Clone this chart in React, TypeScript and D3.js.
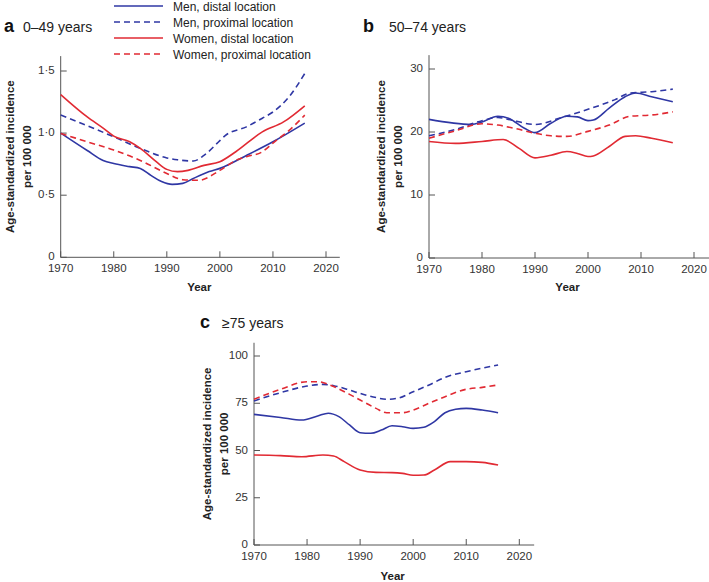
import React from "react";
import * as d3 from "d3";

// ---------- DATA ----------
const seriesNames = [
  "Men, distal location",
  "Men, proximal location",
  "Women, distal location",
  "Women, proximal location",
];

// Panel a: 0–49 years
const aYears = [1970, 1975, 1978, 1980, 1983, 1985, 1987, 1989, 1991, 1993, 1995, 1998, 2000, 2005, 2010, 2016];
const aMenDistal = [1.0, 0.86, 0.78, 0.755, 0.73, 0.715, 0.66, 0.61, 0.587, 0.595, 0.635, 0.69, 0.716, 0.82, 0.93, 1.08];
const aMenProxYears = [1970, 1975, 1980, 1985, 1990, 1992, 1995, 1997, 2000, 2001, 2005, 2008, 2010, 2013, 2016];
const aMenProximal = [1.145, 1.06, 0.97, 0.877, 0.8, 0.785, 0.775, 0.82, 0.94, 0.98, 1.05, 1.12, 1.17, 1.29, 1.48];
const aWomDistYears = [1970, 1975, 1978, 1980, 1983, 1985, 1988, 1990, 1992, 1994, 1997, 2000, 2003, 2008, 2012, 2016];
const aWomenDistal = [1.31, 1.13, 1.04, 0.976, 0.93, 0.877, 0.77, 0.708, 0.69, 0.7, 0.74, 0.77, 0.85, 1.01, 1.09, 1.22];
const aWomProxYears = [1970, 1975, 1980, 1985, 1990, 1993, 1996, 2000, 2003, 2005, 2008, 2010, 2013, 2016];
const aWomenProximal = [0.997, 0.93, 0.863, 0.78, 0.675, 0.625, 0.62, 0.7, 0.78, 0.81, 0.85, 0.92, 1.02, 1.145];
const aTicks = [0, 0.5, 1.0, 1.5];
const aTickLabels = ["0", "0·5", "1·0", "1·5"];

// Panel b: 50–74 years
const bMenDistYears = [1970, 1978, 1980, 1983, 1985, 1988, 1990, 1993, 1996, 1998, 2000, 2001, 2004, 2007, 2009, 2012, 2016];
const bMenDistal = [22.0, 21.2, 21.6, 22.5, 22.2, 20.6, 19.9, 21.4, 22.5, 22.4, 21.8, 21.9, 23.8, 25.6, 26.2, 25.6, 24.8];
const bMenProxYears = [1970, 1975, 1980, 1983, 1985, 1990, 1995, 2000, 2005, 2008, 2012, 2016];
const bMenProximal = [19.4, 20.4, 21.8, 22.3, 22.0, 21.2, 22.3, 23.6, 25.1, 26.2, 26.4, 26.8];
const bWomDistYears = [1970, 1975, 1980, 1984, 1987, 1990, 1993, 1996, 1998, 2000, 2001, 2004, 2007, 2009, 2012, 2016];
const bWomenDistal = [18.5, 18.2, 18.5, 18.8, 17.4, 15.9, 16.3, 16.9, 16.6, 16.1, 16.2, 17.7, 19.3, 19.4, 19.0, 18.3];
const bWomProxYears = [1970, 1975, 1980, 1983, 1986, 1990, 1993, 1996, 2000, 2004, 2008, 2012, 2016];
const bWomenProximal = [19.0, 20.2, 21.3, 21.1, 20.6, 19.8, 19.4, 19.3, 20.1, 21.1, 22.5, 22.7, 23.2];
const bTicks = [0, 10, 20, 30];
const bTickLabels = ["0", "10", "20", "30"];

// Panel c: ≥75 years
const cMenDistYears = [1970, 1975, 1979, 1982, 1984, 1986, 1988, 1990, 1992, 1994, 1996, 1998, 2000, 2002, 2004, 2006, 2008, 2010, 2013, 2016];
const cMenDistal = [69.1, 67.5, 66.1, 68.3, 69.7, 67.9, 63.5, 59.4, 59.1, 60.8, 63.1, 62.6, 61.7, 62.3, 65.3, 70.0, 71.8, 72.3, 71.4, 70.0];
const cMenProxYears = [1970, 1975, 1980, 1983, 1985, 1988, 1990, 1993, 1995, 1997, 2000, 2003, 2006, 2010, 2016];
const cMenProximal = [76.2, 80.6, 84.1, 85.0, 84.3, 82.0, 80.2, 78.0, 77.1, 77.6, 81.1, 84.7, 88.7, 91.7, 95.2];
const cWomDistYears = [1970, 1975, 1979, 1983, 1985, 1987, 1990, 1993, 1996, 1998, 2000, 2002, 2004, 2007, 2010, 2013, 2016];
const cWomenDistal = [47.6, 47.3, 46.7, 47.6, 47.1, 44.1, 39.7, 38.4, 38.3, 37.9, 36.9, 37.0, 39.7, 44.1, 44.1, 43.7, 42.3];
const cWomProxYears = [1970, 1975, 1980, 1982, 1985, 1988, 1990, 1993, 1995, 1998, 2000, 2003, 2006, 2010, 2013, 2016];
const cWomenProximal = [77.1, 82.4, 86.4, 86.4, 83.8, 79.7, 76.7, 72.3, 70.0, 70.0, 71.4, 75.0, 78.5, 82.4, 83.4, 84.7];
const cTicks = [0, 25, 50, 75, 100];
const cTickLabels = ["0", "25", "50", "75", "100"];

const xTicks = [1970, 1980, 1990, 2000, 2010, 2020];

// ---------- STYLE ----------
const BLUE = "#2f37a4";
const RED = "#e12a33";
const AXIS = "#555";
const FONT = "'Liberation Sans', Arial, Helvetica, sans-serif";
const styles = [
  { color: BLUE, dash: null },
  { color: BLUE, dash: "6,4" },
  { color: RED, dash: null },
  { color: RED, dash: "6,4" },
];

type Series = { years: number[]; values: number[] };

function Panel(props: {
  x0: number; x1: number; y0: number; y1: number;
  yMax: number; yTop: number; xEnd: number;
  ticks: number[]; tickLabels: string[]; series: Series[];
  letter: string; title: string; letterX: number; titleX: number; titleY: number;
  labelX: number; yearY: number;
}) {
  const { x0, x1, y0, y1, yMax, yTop, xEnd, ticks, series } = props;
  const xs = d3.scaleLinear().domain([1970, 2020]).range([x0, x1]);
  const ys = d3.scaleLinear().domain([0, yMax]).range([y0, y1]);
  const yMid = (y0 + ys(yTop)) / 2;
  return (
    <g>
      <text x={props.letterX} y={props.titleY} fontSize={18} fontWeight="bold" fill="#111">{props.letter}</text>
      <text x={props.titleX} y={props.titleY} fontSize={14} fill="#222">{props.title}</text>
      {/* axes */}
      <line x1={x0} x2={x0} y1={y0} y2={ys(yTop)} stroke={AXIS} strokeWidth={1} />
      <line x1={x0} x2={xs(xEnd)} y1={y0} y2={y0} stroke={AXIS} strokeWidth={1} />
      {ticks.map((t, i) => (
        <g key={"y" + t}>
          <line x1={x0} x2={x0 + 6} y1={ys(t)} y2={ys(t)} stroke={AXIS} />
          <text x={x0 - 6} y={ys(t) + 3} fontSize={11.5} textAnchor="end" fill="#333">{props.tickLabels[i]}</text>
        </g>
      ))}
      {xTicks.map((t) => (
        <g key={"x" + t}>
          <line x1={xs(t)} x2={xs(t)} y1={y0} y2={y0 - 6} stroke={AXIS} />
          <text x={xs(t)} y={y0 + 15} fontSize={11.5} textAnchor="middle" fill="#333">{t}</text>
        </g>
      ))}
      <text x={(x0 + xs(2020)) / 2 + 6} y={props.yearY} fontSize={11.5} fontWeight="bold" textAnchor="middle" fill="#222">Year</text>
      <text transform={`translate(${props.labelX},${yMid}) rotate(-90)`} fontSize={11.5} fontWeight="bold" textAnchor="middle" fill="#222">
        <tspan x={0} dy={0}>Age-standardized incidence</tspan>
        <tspan x={0} dy={17}>per 100 000</tspan>
      </text>
      {series.map((s, i) => {
        const pts: [number, number][] = s.years.map((yr, j) => [xs(yr), ys(s.values[j])]);
        const path = d3.line().curve(d3.curveMonotoneX)(pts) || "";
        return (
          <path key={i} d={path} fill="none" stroke={styles[i].color} strokeWidth={1.6}
            strokeDasharray={styles[i].dash || undefined} />
        );
      })}
    </g>
  );
}

export default function App() {
  const legendY = [6, 22, 38, 54];
  return (
    <svg width={709} height={582} style={{ position: "absolute", left: 0, top: 0, fontFamily: FONT }}>
      <rect x={0} y={0} width={709} height={582} fill="#fff" />
      {seriesNames.map((n, i) => (
        <g key={n}>
          <line x1={114} x2={163} y1={legendY[i]} y2={legendY[i]} stroke={styles[i].color} strokeWidth={1.6}
            strokeDasharray={styles[i].dash || undefined} />
          <text x={173} y={legendY[i] + 4.5} fontSize={12} fill="#222">{n}</text>
        </g>
      ))}
      <Panel x0={60.7} x1={326} y0={257.3} y1={71} yMax={1.5} yTop={1.62} xEnd={2022.6}
        ticks={aTicks} tickLabels={aTickLabels}
        series={[
          { years: aYears, values: aMenDistal },
          { years: aMenProxYears, values: aMenProximal },
          { years: aWomDistYears, values: aWomenDistal },
          { years: aWomProxYears, values: aWomenProximal },
        ]}
        letter="a" title="0–49 years" letterX={4} titleX={23} titleY={32} labelX={14} yearY={291} />
      <Panel x0={429} x1={694} y0={258} y1={69} yMax={30} yTop={32.2} xEnd={2023}
        ticks={bTicks} tickLabels={bTickLabels}
        series={[
          { years: bMenDistYears, values: bMenDistal },
          { years: bMenProxYears, values: bMenProximal },
          { years: bWomDistYears, values: bWomenDistal },
          { years: bWomProxYears, values: bWomenProximal },
        ]}
        letter="b" title="50–74 years" letterX={363} titleX={389} titleY={32} labelX={385} yearY={291} />
      <Panel x0={254} x1={519.3} y0={545} y1={356} yMax={100} yTop={107} xEnd={2022.8}
        ticks={cTicks} tickLabels={cTickLabels}
        series={[
          { years: cMenDistYears, values: cMenDistal },
          { years: cMenProxYears, values: cMenProximal },
          { years: cWomDistYears, values: cWomenDistal },
          { years: cWomProxYears, values: cWomenProximal },
        ]}
        letter="c" title="≥75 years" letterX={200} titleY={328} titleX={222} labelX={211} yearY={580} />
    </svg>
  );
}
